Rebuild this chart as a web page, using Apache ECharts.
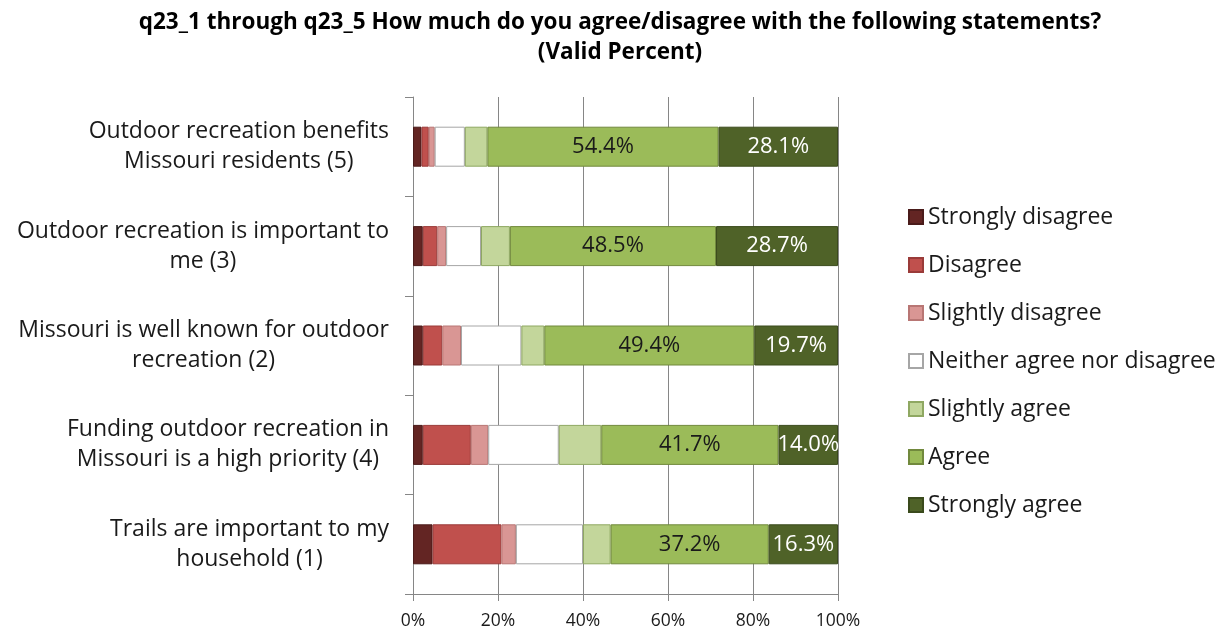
<!DOCTYPE html>
<html>
<head>
<meta charset="utf-8">
<script src="https://cdn.jsdelivr.net/npm/echarts@6/dist/echarts.min.js"></script>
<style>html,body{margin:0;padding:0;background:#fff;}#c{width:1225px;height:635px;}</style>
</head>
<body>
<div id="c"></div>
<script>
const categories = [
  'Outdoor recreation benefits\nMissouri residents (5)',
  'Outdoor recreation is important to\nme (3)',
  'Missouri is well known for outdoor\nrecreation (2)',
  'Funding outdoor recreation in\nMissouri is a high priority (4)',
  'Trails are important to my\nhousehold (1)'
];
const seriesNames = ['Strongly disagree','Disagree','Slightly disagree','Neither agree nor disagree','Slightly agree','Agree','Strongly agree'];
const stronglyDisagree = [2.0, 2.3, 2.3, 2.3, 4.6];
const disagree         = [1.7, 3.4, 4.6, 11.3, 16.2];
const slightlyDisagree = [1.4, 2.1, 4.4, 4.1, 3.4];
const neither          = [7.1, 8.2, 14.2, 16.6, 15.8];
const slightlyAgree    = [5.3, 6.8, 5.4, 10.0, 6.5];
const agree            = [54.4, 48.5, 49.4, 41.7, 37.2];
const stronglyAgree    = [28.1, 28.7, 19.7, 14.0, 16.3];
const xTicks = [0, 20, 40, 60, 80, 100];

const allData = [stronglyDisagree, disagree, slightlyDisagree, neither, slightlyAgree, agree, stronglyAgree];
const fills   = ['#632523','#C0504D','#D99694','#FFFFFF','#C3D69B','#9BBB59','#4F6228'];
const borders = ['#4a1b1a','#9a3b39','#b87674','#a6a6a6','#8fa862','#71893d','#3a4a1c'];
const labelColors = [null,null,null,null,null,'#1a1a1a','#ffffff'];
const FONT = '"Open Sans", Lato, sans-serif';

const chart = echarts.init(document.getElementById('c'), null, {renderer:'canvas'});
const series = seriesNames.map((name, i) => ({
  name: name,
  type: 'bar',
  stack: 'total',
  barWidth: 40,
  data: allData[i],
  itemStyle: { color: fills[i], borderColor: borders[i], borderWidth: 1 },
  emphasis: { disabled: true },
  label: labelColors[i] ? {
    show: true, position: 'inside', color: labelColors[i], fontSize: 22, fontFamily: FONT,
    formatter: p => p.value.toFixed(1) + '%'
  } : { show: false }
}));

chart.setOption({
  animation: false,
  backgroundColor: '#ffffff',
  title: {
    text: 'q23_1 through q23_5 How much do you agree/disagree with the following statements?\n(Valid Percent)',
    left: 615, top: 3, textAlign: 'center',
    textStyle: { fontSize: 22.5, fontWeight: 'bold', color: '#000', fontFamily: FONT, lineHeight: 30 }
  },
  legend: {
    orient: 'vertical', left: 903, top: 198,
    icon: 'rect', itemWidth: 14, itemHeight: 14, itemGap: 20,
    textStyle: { fontSize: 23, color: '#1a1a1a', fontFamily: FONT, lineHeight: 28 },
    data: seriesNames,
    selectedMode: false
  },
  grid: { left: 413, right: 387, top: 97, bottom: 41, containLabel: false },
  xAxis: {
    type: 'value', min: 0, max: 100, interval: 20,
    axisLine: { show: true, lineStyle: { color: '#868686', width: 1 } },
    axisTick: { show: true, length: 7, lineStyle: { color: '#868686' } },
    splitLine: { show: true, lineStyle: { color: '#868686', width: 1 } },
    axisLabel: { formatter: v => xTicks.includes(v) ? v + '%' : '', fontSize: 17.5, color: '#1a1a1a', fontFamily: FONT, margin: 18 }
  },
  yAxis: {
    type: 'category', inverse: true, data: categories,
    axisLine: { show: true, lineStyle: { color: '#868686', width: 1 } },
    axisTick: { show: true, length: 8, alignWithLabel: false, lineStyle: { color: '#868686' } },
    axisLabel: {
      margin: 24, align: 'right', fontSize: 23, color: '#1a1a1a', fontFamily: FONT, lineHeight: 30,
      formatter: v => v.split('\n').map(l => '{c|' + l + '}').join('\n'),
      rich: { c: { align: 'center', fontSize: 23, color: '#1a1a1a', fontFamily: FONT, lineHeight: 30 } }
    }
  },
  series: series
});
</script>
</body>
</html>
